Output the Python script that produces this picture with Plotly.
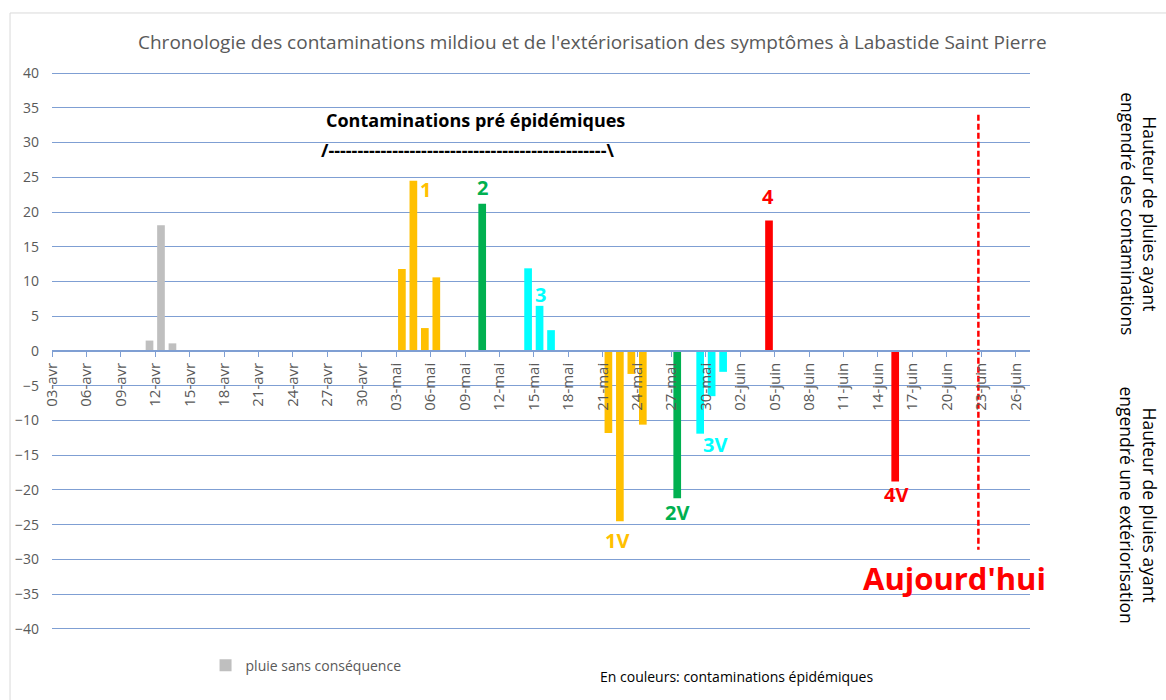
import pandas as pd
import plotly.graph_objects as go

# --- Données : hauteur de pluie (mm) par jour -----------------------------
# pluies sans conséquence
gris_dates = ["2023-04-11", "2023-04-12", "2023-04-13"]
gris_mm = [1.5, 18.1, 1.1]

# contaminations épidémiques (valeurs positives)
c1_dates = ["2023-05-03", "2023-05-04", "2023-05-05", "2023-05-06"]
c1_mm = [11.8, 24.5, 3.3, 10.6]
c2_dates = ["2023-05-10"]
c2_mm = [21.2]
c3_dates = ["2023-05-14", "2023-05-15", "2023-05-16"]
c3_mm = [11.9, 6.5, 3.0]
c4_dates = ["2023-06-04"]
c4_mm = [18.8]

# extériorisations des symptômes (valeurs négatives)
v1_dates = ["2023-05-21", "2023-05-22", "2023-05-23", "2023-05-24"]
v1_mm = [-11.8, -24.5, -3.3, -10.6]
v2_dates = ["2023-05-27"]
v2_mm = [-21.2]
v3_dates = ["2023-05-29", "2023-05-30", "2023-05-31"]
v3_mm = [-11.9, -6.5, -3.0]
v4_dates = ["2023-06-15"]
v4_mm = [-18.8]

aujourdhui = "2023-06-22 18:00"
aujourdhui_y = [34, -28.6]

# graduations de l'axe des dates
MOIS = {4: "avr", 5: "mai", 6: "juin"}
tick_dates = list(pd.date_range("2023-04-03", "2023-06-26", freq="3D"))
tick_labels = [f"{d.day:02d}-{MOIS[d.month]}" for d in tick_dates]

# --- Styles ---------------------------------------------------------------
JAUNE, VERT, CYAN, ROUGE, GRIS = "#FFC000", "#00B050", "#00FFFF", "#FF0000", "#BFBFBF"
BLEU_GRILLE = "#7F9FD3"
FONT = "Open Sans"
DAY_MS = 86400000
BAR_W = 0.67 * DAY_MS

fig = go.Figure()


def barres(dates, valeurs, couleur, nom=None, legende=False):
    fig.add_trace(go.Bar(
        x=dates, y=valeurs, marker=dict(color=couleur, line=dict(width=0)),
        width=BAR_W, xperiod=DAY_MS, xperiodalignment="middle",
        name=nom, showlegend=legende, hoverinfo="x+y",
    ))


barres(gris_dates, gris_mm, GRIS, "pluie sans conséquence", True)
for d, v, c in [(c1_dates, c1_mm, JAUNE), (c2_dates, c2_mm, VERT),
                (c3_dates, c3_mm, CYAN), (c4_dates, c4_mm, ROUGE),
                (v1_dates, v1_mm, JAUNE), (v2_dates, v2_mm, VERT),
                (v3_dates, v3_mm, CYAN), (v4_dates, v4_mm, ROUGE)]:
    barres(d, v, c)

# ligne "aujourd'hui"
fig.add_trace(go.Scatter(
    x=[aujourdhui, aujourdhui], y=aujourdhui_y, mode="lines",
    line=dict(color=ROUGE, width=2.5, dash="6px,3px"), showlegend=False,
    hoverinfo="skip",
))

# numéros des épisodes
etiquettes = [
    ("1", "2023-05-05 14:00", 23.2, JAUNE),
    ("2", "2023-05-10 12:00", 23.5, VERT),
    ("3", "2023-05-15 14:00", 8.1, CYAN),
    ("4", "2023-06-04 10:00", 22.2, ROUGE),
    ("1V", "2023-05-22 07:00", -27.3, JAUNE),
    ("2V", "2023-05-27 12:00", -23.3, VERT),
    ("3V", "2023-05-30 19:00", -13.5, CYAN),
    ("4V", "2023-06-15 14:00", -20.7, ROUGE),
]


def note(text, x, y, xref, yref, size, color, angle=0, bold=False):
    return dict(
        text=f"<b>{text}</b>" if bold else text, x=x, y=y, xref=xref, yref=yref,
        showarrow=False, xanchor="center", yanchor="middle", textangle=angle,
        font=dict(family=FONT, size=size, color=color),
    )


annotations = [note(t, x, y, "x", "y", 20, c, bold=True) for t, x, y, c in etiquettes]
annotations += [
    note("Contaminations pré épidémiques", 0.4335, 33.2, "paper", "y", 18, "#000000", bold=True),
    note("/" + "-" * 48 + "\\", 0.425, 28.9, "paper", "y", 18, "#000000", bold=True),
    note("Aujourd'hui", 0.923, -32.7, "paper", "y", 31, ROUGE, bold=True),
    note("Hauteur de pluies ayant<br>engendré des contaminations",
         1.111, 0.745, "paper", "paper", 17.5, "#000000", angle=90),
    note("Hauteur de pluies ayant<br>engendré une extériorisation",
         1.111, 0.225, "paper", "paper", 17.5, "#000000", angle=90),
    note("En couleurs: contaminations épidémiques", 0.700, -0.0805,
         "paper", "paper", 14, "#000000"),
]

fig.update_layout(
    width=1166, height=700,
    margin=dict(l=52, r=136, t=71, b=69),
    paper_bgcolor="white", plot_bgcolor="white",
    barmode="overlay",
    font=dict(family=FONT, color="#595959"),
    title=dict(
        text="Chronologie des contaminations mildiou et de l'extériorisation des symptômes à Labastide Saint Pierre",
        x=0.508, y=1 - 42 / 700, xanchor="center", yanchor="middle",
        font=dict(family=FONT, size=19, color="#595959"),
    ),
    xaxis=dict(
        type="date", range=["2023-04-03", "2023-06-27 06:00"],
        anchor="free", position=0.5,
        showgrid=False, zeroline=False,
        showline=True, linecolor=BLEU_GRILLE, linewidth=1.5,
        ticks="outside", ticklen=5, tickcolor=BLEU_GRILLE,
        tickmode="array", tickvals=tick_dates, ticktext=tick_labels,
        tickangle=-90, tickfont=dict(family=FONT, size=15, color="#595959"),
    ),
    yaxis=dict(
        range=[-40.3, 40.3], dtick=5, tick0=0,
        showgrid=True, gridcolor=BLEU_GRILLE, gridwidth=1.3,
        zeroline=False, showline=False, ticks="",
        ticklabelstandoff=12,
        tickfont=dict(family=FONT, size=14, color="#595959"),
    ),
    legend=dict(
        orientation="h", x=0.157, y=-0.062, xanchor="left", yanchor="middle",
        font=dict(family=FONT, size=14, color="#595959"),
        bgcolor="rgba(0,0,0,0)",
    ),
    annotations=annotations,
    shapes=[dict(
        type="rect", xref="paper", yref="paper",
        x0=-0.0429, x1=1.16, y0=-0.16, y1=1.1036,
        line=dict(color="#D9D9D9", width=1), layer="below",
    )],
)

fig.write_html("out.html")
